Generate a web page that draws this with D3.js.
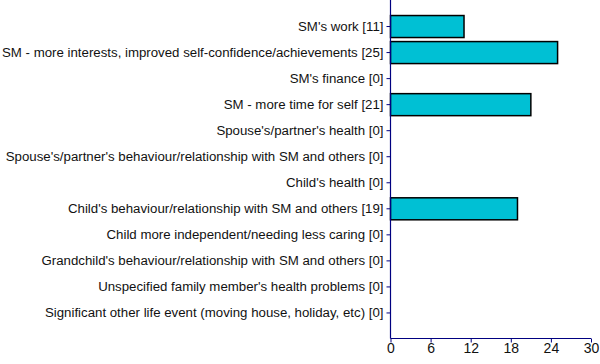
<!DOCTYPE html>
<html><head><meta charset="utf-8">
<script src="https://cdn.jsdelivr.net/npm/d3@7"></script>
<style>body{margin:0;background:#fff}svg{display:block}</style>
</head><body>
<svg id="c" width="600" height="364"></svg>
<script>
const categories = [
  "SM's work [11]",
  "SM - more interests, improved self-confidence/achievements [25]",
  "SM's finance [0]",
  "SM - more time for self [21]",
  "Spouse's/partner's health [0]",
  "Spouse's/partner's behaviour/relationship with SM and others [0]",
  "Child's health [0]",
  "Child's behaviour/relationship with SM and others [19]",
  "Child more independent/needing less caring [0]",
  "Grandchild's behaviour/relationship with SM and others [0]",
  "Unspecified family member's health problems [0]",
  "Significant other life event (moving house, holiday, etc) [0]"
];
const values = [11, 25, 0, 21, 0, 0, 0, 19, 0, 0, 0, 0];
const xTicks = [0, 6, 12, 18, 24, 30];

(function () {
const svg = d3.select("#c");
const pLeft = 390.5, pRight = 591, pTop = 0, pBottom = 338.5;
const x = d3.scaleLinear().domain([0, 30]).range([pLeft, pRight]);
const y = d3.scalePoint().domain(categories).range([pTop, pBottom]).padding(1);
const bh = 22;

svg.selectAll("rect.bar").data(values).join("rect")
  .attr("class", "bar")
  .attr("x", x(0))
  .attr("y", (d, i) => y(categories[i]) - bh / 2 + 0.5)
  .attr("width", d => x(d) - x(0))
  .attr("height", bh)
  .attr("fill", d => d > 0 ? "#00C0D4" : "none")
  .attr("stroke", d => d > 0 ? "#000" : "none")
  .attr("stroke-width", 1.5);

const yAxis = svg.append("g").attr("transform", `translate(${pLeft},0)`)
  .call(d3.axisLeft(y).tickSize(4).tickPadding(3));
const xAxis = svg.append("g").attr("transform", `translate(0,${pBottom})`)
  .call(d3.axisBottom(x).tickValues(xTicks).tickSize(4).tickPadding(1));

[yAxis, xAxis].forEach(g => {
  g.select(".domain").attr("stroke", "#000080").attr("stroke-width", 1.2);
  g.selectAll(".tick line").attr("stroke", "#000080");
  g.selectAll("text").attr("fill", "#111").style("font-family", "'Liberation Sans', Arial, sans-serif");
});
yAxis.selectAll("text").style("font-size", "13.25px");
xAxis.selectAll("text").style("font-size", "14px");
yAxis.select(".domain").attr("d", `M0,${pTop}V${pBottom}`);
xAxis.select(".domain").attr("d", `M${pLeft},0H${pRight}`);
})();
</script>
</body></html>
